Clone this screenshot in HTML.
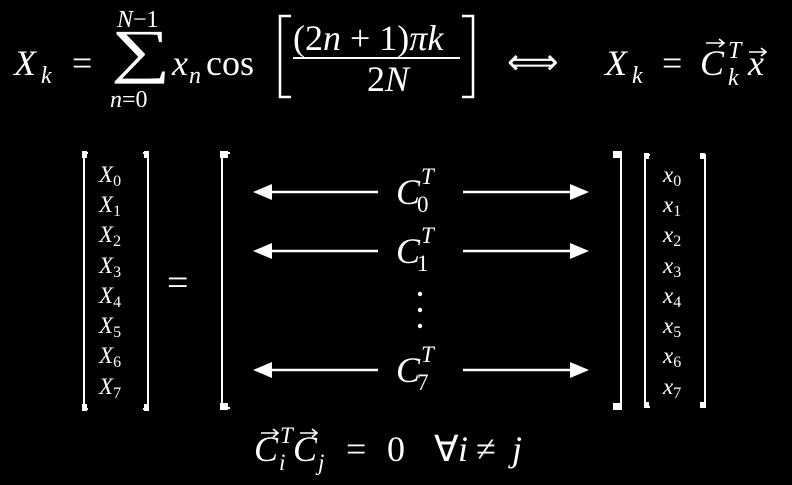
<!DOCTYPE html>
<html><head><meta charset="utf-8"><style>
html,body{margin:0;padding:0;background:#000;width:792px;height:485px;overflow:hidden}
svg{display:block}
text{fill:#fff;font-family:"Liberation Serif",serif}
.i{font-style:italic}
</style></head><body>
<svg width="792" height="485" viewBox="0 0 792 485">
<text x="14" y="75" font-size="36" class="i">X</text>
<text x="41" y="83" font-size="24" class="i">k</text>
<text x="72" y="75" font-size="36">=</text>
<text transform="translate(111,71) scale(1.4,1)" x="0" y="0" font-size="60">∑</text>
<text x="117" y="27" font-size="24"><tspan class="i">N</tspan>−1</text>
<text x="110" y="107" font-size="24"><tspan class="i">n</tspan>=0</text>
<text x="172" y="75" font-size="36" class="i">x</text>
<text x="189" y="83" font-size="24" class="i">n</text>
<text x="206" y="75" font-size="36">cos</text>
<path d="M291 16 H280 V97 H291" stroke="#fff" stroke-width="2.5" fill="none"/>
<path d="M462 16 H473 V97 H462" stroke="#fff" stroke-width="2.5" fill="none"/>
<text x="293" y="50" font-size="36">(2<tspan class="i">n</tspan> + 1)<tspan class="i">πk</tspan></text>
<line x1="293" y1="58" x2="460" y2="58" stroke="#fff" stroke-width="2"/>
<text x="367" y="91" font-size="36">2<tspan class="i">N</tspan></text>
<text x="507" y="74" font-size="36">⟺</text>
<text x="605" y="75" font-size="36" class="i">X</text>
<text x="632" y="83" font-size="24" class="i">k</text>
<text x="662" y="75" font-size="36">=</text>
<text x="700" y="75" font-size="36" class="i">C</text>
<path d="M706 43 H724 M719 39 L724 43 L719 47" stroke="#fff" stroke-width="1.6" fill="none"/>
<text x="728" y="58" font-size="24" class="i">T</text>
<text x="728" y="85" font-size="24" class="i">k</text>
<text x="748" y="75" font-size="36" class="i">x</text>
<path d="M749 52 H766 M761 48 L766 52 L761 56" stroke="#fff" stroke-width="1.6" fill="none"/>

<g stroke="#fff" fill="none" stroke-width="2">
<path d="M88 153 H84 V409 H88"/><path d="M143 153 H148 V409 H143"/>
<path d="M230 153 H222 V408 H230"/>
<path d="M613 153 H621 V408 H613"/>
<path d="M650 155 H645 V407 H650"/><path d="M700 155 H705 V407 H700"/>
</g>
<g fill="#fff">
<rect x="82" y="151" width="5" height="7"/><rect x="82" y="404" width="5" height="7"/>
<rect x="144" y="151" width="5" height="7"/><rect x="144" y="404" width="5" height="7"/>
<rect x="220" y="151" width="8" height="7"/><rect x="220" y="403" width="8" height="7"/>
<rect x="613" y="151" width="9" height="7"/><rect x="613" y="403" width="9" height="7"/>
<rect x="644" y="153" width="5" height="6"/><rect x="644" y="402" width="5" height="6"/>
<rect x="700" y="153" width="5" height="6"/><rect x="700" y="402" width="5" height="6"/>
</g>
<g font-size="23">
<text x="99" y="182"><tspan class="i">X</tspan><tspan font-size="16" dy="4">0</tspan></text>
<text x="99" y="212"><tspan class="i">X</tspan><tspan font-size="16" dy="4">1</tspan></text>
<text x="99" y="242"><tspan class="i">X</tspan><tspan font-size="16" dy="4">2</tspan></text>
<text x="99" y="273"><tspan class="i">X</tspan><tspan font-size="16" dy="4">3</tspan></text>
<text x="99" y="303"><tspan class="i">X</tspan><tspan font-size="16" dy="4">4</tspan></text>
<text x="99" y="333"><tspan class="i">X</tspan><tspan font-size="16" dy="4">5</tspan></text>
<text x="99" y="363"><tspan class="i">X</tspan><tspan font-size="16" dy="4">6</tspan></text>
<text x="99" y="394"><tspan class="i">X</tspan><tspan font-size="16" dy="4">7</tspan></text>
</g>
<g font-size="23">
<text x="663" y="182"><tspan class="i">x</tspan><tspan font-size="16" dy="4">0</tspan></text>
<text x="663" y="212"><tspan class="i">x</tspan><tspan font-size="16" dy="4">1</tspan></text>
<text x="663" y="242"><tspan class="i">x</tspan><tspan font-size="16" dy="4">2</tspan></text>
<text x="663" y="273"><tspan class="i">x</tspan><tspan font-size="16" dy="4">3</tspan></text>
<text x="663" y="303"><tspan class="i">x</tspan><tspan font-size="16" dy="4">4</tspan></text>
<text x="663" y="333"><tspan class="i">x</tspan><tspan font-size="16" dy="4">5</tspan></text>
<text x="663" y="363"><tspan class="i">x</tspan><tspan font-size="16" dy="4">6</tspan></text>
<text x="663" y="394"><tspan class="i">x</tspan><tspan font-size="16" dy="4">7</tspan></text>
</g>
<text x="167" y="295" font-size="38">=</text>

<g stroke="#fff" stroke-width="2.5">
<line x1="270" y1="192" x2="378" y2="192"/><line x1="270" y1="251" x2="378" y2="251"/><line x1="270" y1="370" x2="378" y2="370"/>
<line x1="463" y1="192" x2="572" y2="192"/><line x1="463" y1="251" x2="572" y2="251"/><line x1="463" y1="370" x2="572" y2="370"/>
</g>
<g fill="#fff">
<polygon points="253,192 272,184 272,200"/><polygon points="253,251 272,243 272,259"/><polygon points="253,370 272,362 272,378"/>
<polygon points="589,192 570,184 570,200"/><polygon points="589,251 570,243 570,259"/><polygon points="589,370 570,362 570,378"/>
<circle cx="420" cy="294" r="2.2"/><circle cx="420" cy="310" r="2.2"/><circle cx="420" cy="326" r="2.2"/>
</g>
<g font-size="36">
<text x="396" y="204" class="i">C</text><text x="421" y="184" font-size="23" class="i">T</text><text x="417" y="212" font-size="23">0</text>
<text x="396" y="263" class="i">C</text><text x="421" y="243" font-size="23" class="i">T</text><text x="417" y="271" font-size="23">1</text>
<text x="396" y="382" class="i">C</text><text x="421" y="362" font-size="23" class="i">T</text><text x="417" y="390" font-size="23">7</text>
</g>

<text x="254" y="461" font-size="36" class="i">C</text>
<path d="M261 433 H278 M273 429 L278 433 L273 437" stroke="#fff" stroke-width="1.6" fill="none"/>
<text x="280" y="443" font-size="23" class="i">T</text>
<text x="279" y="470" font-size="23" class="i">i</text>
<text x="293" y="461" font-size="36" class="i">C</text>
<path d="M300 433 H317 M312 429 L317 433 L312 437" stroke="#fff" stroke-width="1.6" fill="none"/>
<text x="318" y="470" font-size="23" class="i">j</text>
<text x="346" y="461" font-size="36">=</text>
<text x="387" y="461" font-size="36">0</text>
<text x="434" y="461" font-size="36">∀</text>
<text x="458" y="461" font-size="36" class="i">i</text>
<text x="476" y="461" font-size="36">≠</text>
<text x="512" y="461" font-size="36" class="i">j</text>
</svg>
</body></html>
